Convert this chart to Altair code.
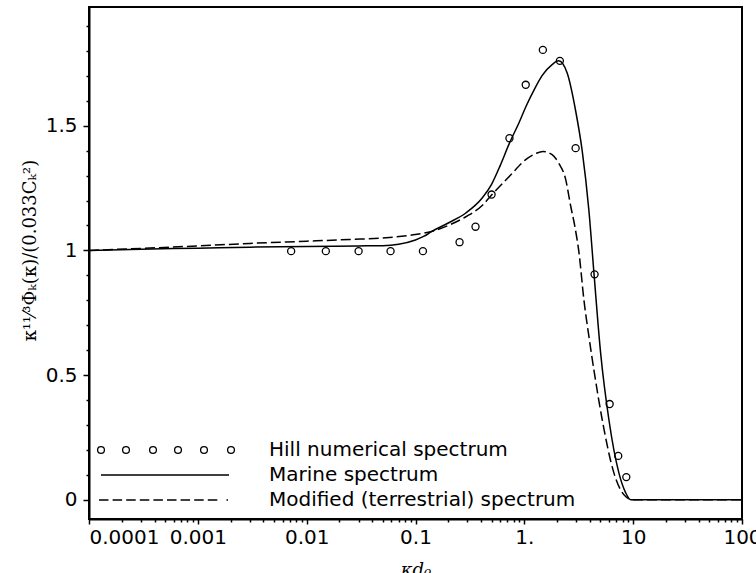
import altair as alt
import pandas as pd

# ---------------- data ----------------
marine_x = [0.0001, 0.0003, 0.001, 0.003, 0.01, 0.03, 0.05, 0.07, 0.1, 0.12, 0.141,
            0.2, 0.29, 0.41, 0.5, 0.6, 0.73, 0.9, 1.03, 1.25, 1.45, 1.8, 2.07, 2.48,
            2.96, 3.4, 3.92, 4.36, 5.02, 5.99, 7.4, 8.5, 9.5, 12, 100]
marine_y = [1.0, 1.005, 1.009, 1.013, 1.016, 1.018, 1.019, 1.025, 1.042, 1.057, 1.076,
            1.11, 1.15, 1.21, 1.265, 1.34, 1.43, 1.515, 1.575, 1.65, 1.70, 1.745, 1.76,
            1.71, 1.56, 1.40, 1.16, 0.91, 0.59, 0.32, 0.107, 0.03, 0.0, 0.0, 0.0]

modified_x = [0.0001, 0.0003, 0.001, 0.003, 0.01, 0.025, 0.05, 0.1, 0.141, 0.2, 0.29,
              0.41, 0.5, 0.73, 1.03, 1.27, 1.48, 1.8, 2.07, 2.4, 2.66, 2.9, 3.18, 3.53,
              3.92, 4.36, 5.2, 6.65, 8.53, 10, 100]
modified_y = [1.0, 1.008, 1.018, 1.028, 1.037, 1.044, 1.05, 1.064, 1.076, 1.10, 1.135,
              1.18, 1.222, 1.297, 1.364, 1.388, 1.397, 1.384, 1.35, 1.284, 1.18, 1.10,
              0.99, 0.80, 0.655, 0.52, 0.32, 0.108, 0.013, 0.0, 0.0]

hill_x = [0.0072, 0.015, 0.030, 0.059, 0.117, 0.254, 0.356, 0.50, 0.73, 1.03, 1.48,
          2.12, 2.96, 4.42, 6.08, 7.29, 8.65]
hill_y = [0.997, 0.997, 0.997, 0.997, 0.997, 1.033, 1.095, 1.224, 1.45, 1.664, 1.804,
          1.76, 1.41, 0.904, 0.384, 0.176, 0.091]

series_names = ["Hill numerical spectrum", "Marine spectrum",
                "Modified (terrestrial) spectrum"]

x_decades = [0.0001, 0.001, 0.01, 0.1, 1, 10]
x_multipliers = [1, 2, 3, 4, 5, 6, 7, 8, 9]
x_last_tick = [100]
y_tick_values = [0, 0.1, 0.2, 0.3, 0.4, 0.5, 0.6, 0.7, 0.8, 0.9, 1.0,
                 1.1, 1.2, 1.3, 1.4, 1.5, 1.6, 1.7, 1.8, 1.9]

x_tick_values = [round(d * m, 6) for d in x_decades for m in x_multipliers] + x_last_tick

# ---------------- legend symbol paths (unit = sqrt(size)/2 px) ----------------
def circ(cx, r=0.34):
    return f"M{cx - r},0A{r},{r} 0 1,0 {cx + r},0A{r},{r} 0 1,0 {cx - r},0Z"

circle_path = "".join(circ(c) for c in [-0.7, 1.8, 4.5, 7.0, 9.6, 12.3])
solid_path = "M-0.7,0L12.1,0"
dash_starts = [-0.9 + 1.36 * k for k in range(9)]
dashed_path = "".join(f"M{s:.2f},0L{s + 0.95:.2f},0" for s in dash_starts) + "M11.85,0L12.0,0"

# ---------------- frames ----------------
marine_df = pd.DataFrame({"x": marine_x, "y": marine_y})
modified_df = pd.DataFrame({"x": modified_x, "y": modified_y})
hill_df = pd.DataFrame({"x": hill_x, "y": hill_y})
legend_df = pd.DataFrame({"x": [1, 1, 1], "y": [-1, -1, -1], "series": series_names})

FONT = "DejaVu Sans"
is_decade = "abs(log(datum.value)/LN10 - round(log(datum.value)/LN10)) < 0.001"
is_half = "abs(datum.value*2 - round(datum.value*2)) < 0.001"

xscale = alt.Scale(type="log", domain=[0.0001, 100], nice=False)
yscale = alt.Scale(domain=[-0.077, 1.976], nice=False, zero=False)

xaxis = alt.Axis(
    values=x_tick_values, format="~g",
    labelExpr=f"{is_decade} ? (datum.value == 1 ? '1.' : datum.label) : ''",
    labelOverlap=False, labelFont=FONT, labelFontSize=20, labelColor="black",
    labelPadding=3, labelFlush=False,
    labelAlign={"condition": {"test": "datum.value < 0.00015", "value": "left"}, "value": "center"},
    tickSize={"condition": {"test": is_decade, "value": 5}, "value": 3},
    tickColor="black", tickWidth=1.5, domainColor="black", domainWidth=2,
    grid=False, title="κd₀", titleFont="DejaVu Serif", titleFontStyle="italic",
    titleFontSize=18, titleFontWeight="normal", titleColor="black",
    titleBaseline="top", titleY=42,
)
yaxis = alt.Axis(
    values=y_tick_values, format="~g",
    labelExpr=f"{is_half} ? datum.label : ''",
    labelOverlap=False, labelFont=FONT, labelFontSize=20, labelColor="black",
    labelPadding=6,
    tickSize={"condition": {"test": is_half, "value": 6}, "value": 3},
    tickColor="black", tickWidth=1.5, domainColor="black", domainWidth=2,
    grid=False, title="κ¹¹⁄³Φₖ(κ)/(0.033Cₖ²)", titleFont="DejaVu Serif",
    titleFontSize=18, titleFontWeight="normal", titleColor="black",
    titleAngle=270, titleX=-54, titleY=243, titleAlign="center",
    titleBaseline="alphabetic",
)

X = alt.X("x:Q", scale=xscale, axis=xaxis)
Y = alt.Y("y:Q", scale=yscale, axis=yaxis)

marine = alt.Chart(marine_df).mark_line(
    color="black", strokeWidth=1.5, interpolate="monotone", clip=True
).encode(x=X, y=Y)

modified = alt.Chart(modified_df).mark_line(
    color="black", strokeWidth=1.5, strokeDash=[10, 4], interpolate="monotone", clip=True
).encode(x=X, y=Y)

hill = alt.Chart(hill_df).mark_point(
    shape="circle", filled=False, color="black", size=50, strokeWidth=1.3, opacity=1
).encode(x=X, y=Y)

legend_layer = alt.Chart(legend_df).mark_point(
    filled=False, color="black", size=400, strokeWidth=1.3, opacity=1, clip=True
).encode(
    x=X, y=Y,
    shape=alt.Shape(
        "series:N",
        scale=alt.Scale(domain=series_names, range=[circle_path, solid_path, dashed_path]),
        legend=alt.Legend(
            orient="none", legendX=8, legendY=432, direction="vertical", title=None,
            padding=0, rowPadding=4, labelOffset=150, labelLimit=600,
            labelFont=FONT, labelFontSize=20, labelColor="black",
            symbolSize=400, symbolStrokeWidth=1.3, symbolStrokeColor="black",
            symbolFillColor="transparent", symbolOpacity=1,
        ),
    ),
)

chart = alt.layer(marine, modified, hill, legend_layer).properties(
    width=653, height=512,
    autosize=alt.AutoSizeParams(type="none"),
    padding={"left": 89, "top": 7, "right": 14, "bottom": 54},
    background="white",
).configure_view(stroke="black", strokeWidth=2)

chart.save("out.html", embed_options={"renderer": "svg", "actions": False})
